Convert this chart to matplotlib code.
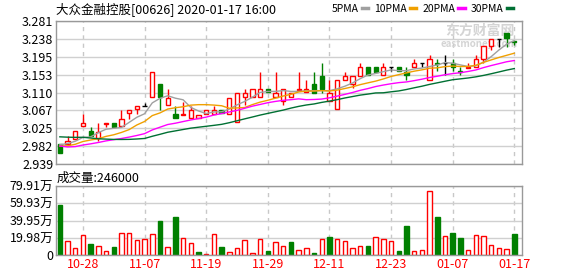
import numpy as np
import pandas as pd
import matplotlib
matplotlib.use('Agg')
import matplotlib.pyplot as plt
from matplotlib.lines import Line2D

plt.rcParams['font.family'] = ['Noto Sans CJK SC', 'DejaVu Sans']

# ---- data (HK trading days, xmas / new year closed) ----
dates = pd.bdate_range('2019-10-23', '2020-01-17')
dates = dates.drop(pd.to_datetime(['2019-12-25', '2019-12-26', '2020-01-01']))

opens = [2.986, 2.988, 2.998, 3.029, 3.018, 3.000, 3.034, 3.036, 3.029, 3.060,
         3.071, 3.078, 3.100, 3.130, 3.079, 3.059, 3.057, 3.049, 3.048, 3.059,
         3.059, 3.067, 3.059, 3.039, 3.100, 3.100, 3.100, 3.118, 3.100, 3.090,
         3.100, 3.115, 3.111, 3.130, 3.149, 3.089, 3.070, 3.140, 3.130, 3.149,
         3.170, 3.170, 3.151, 3.170, 3.170, 3.159, 3.172, 3.180, 3.141, 3.181,
         3.180, 3.180, 3.162, 3.168, 3.170, 3.189, 3.221, 3.239, 3.252, 3.232]
highs = [2.986, 3.006, 3.017, 3.059, 3.027, 3.037, 3.036, 3.036, 3.068, 3.067,
         3.077, 3.086, 3.158, 3.130, 3.118, 3.077, 3.087, 3.077, 3.057, 3.067,
         3.078, 3.067, 3.098, 3.108, 3.118, 3.118, 3.158, 3.118, 3.158, 3.118,
         3.108, 3.159, 3.140, 3.159, 3.180, 3.140, 3.140, 3.159, 3.149, 3.181,
         3.170, 3.170, 3.181, 3.170, 3.170, 3.170, 3.189, 3.180, 3.200, 3.189,
         3.199, 3.189, 3.170, 3.180, 3.199, 3.221, 3.239, 3.239, 3.252, 3.232]
lows = [2.966, 2.988, 2.998, 3.029, 3.006, 2.993, 3.028, 3.028, 3.029, 3.047,
        3.059, 3.078, 3.100, 3.069, 3.079, 3.048, 3.057, 3.049, 3.048, 3.059,
        3.059, 3.062, 3.059, 3.039, 3.079, 3.100, 3.100, 3.111, 3.100, 3.080,
        3.100, 3.115, 3.111, 3.110, 3.110, 3.089, 3.070, 3.140, 3.121, 3.149,
        3.151, 3.159, 3.151, 3.161, 3.161, 3.140, 3.172, 3.170, 3.141, 3.161,
        3.151, 3.161, 3.151, 3.168, 3.170, 3.180, 3.212, 3.220, 3.220, 3.223]
closes = [2.966, 2.995, 3.017, 3.036, 3.006, 3.016, 3.036, 3.028, 3.046, 3.067,
          3.077, 3.078, 3.158, 3.100, 3.098, 3.048, 3.059, 3.067, 3.057, 3.067,
          3.067, 3.062, 3.098, 3.108, 3.108, 3.118, 3.118, 3.111, 3.108, 3.118,
          3.108, 3.118, 3.118, 3.110, 3.118, 3.108, 3.140, 3.149, 3.149, 3.170,
          3.151, 3.159, 3.170, 3.170, 3.161, 3.151, 3.180, 3.180, 3.189, 3.179,
          3.180, 3.172, 3.160, 3.170, 3.189, 3.221, 3.239, 3.239, 3.240, 3.230]
# closes before the window, estimated from where the MA lines start
prior_close = [3.02, 3.03, 3.03, 3.06, 3.07, 3.06, 3.05, 3.05, 3.06, 3.05,
               3.04, 3.00, 2.96, 2.95, 2.95, 2.96, 2.97, 2.99, 3.00, 3.00,
               2.99, 2.98, 2.97, 2.97, 2.985, 2.98, 2.99, 2.99, 2.999]

volumes = [579000, 158000, 77000, 228000, 127000, 100000, 42000, 93000, 251000, 251000,
           170000, 181000, 239000, 394000, 89000, 440000, 193000, 135000, 35000, 12000,
           239000, 93000, 31000, 77000, 170000, 23000, 181000, 46000, 150000, 100000,
           150000, 54000, 77000, 23000, 181000, 208000, 181000, 158000, 77000, 100000,
           104000, 205000, 181000, 158000, 46000, 336000, 42000, 54000, 737000, 440000,
           216000, 255000, 197000, 54000, 228000, 216000, 112000, 77000, 66000, 246000]
vol_dir = list("grrrgrrgrr" "rrrgrgrrgr" "rgrrrrrgrr" "grrgrgrrrr" "grrrggrrrg" "rggrrrrrrg")

price_ticks = ['2.939', '2.982', '3.025', '3.067', '3.110', '3.153', '3.195', '3.238', '3.281']
vol_ticks = ['0', '19.98万', '39.95万', '59.93万', '79.91万']
vol_top = 799100

ma_periods = [5, 10, 20, 30]
ma_names = ['5PMA', '10PMA', '20PMA', '30PMA']
ma_colors = ['#a0a0a0', '#f0a000', '#ff00ff', '#007033']

# ---- figure ----
RED = '#ff0000'
GREEN = '#008000'
n = len(closes)
x = np.arange(n)

fig = plt.figure(figsize=(5.78, 2.76), dpi=100)
ax = fig.add_axes([56/578, 1-164/276, 466/578, 143/276])
ax2 = fig.add_axes([56/578, 1-255/276, 466/578, 69/276])

# candles
w = 0.55
for i in x:
    o, h, l, c = opens[i], highs[i], lows[i], closes[i]
    if c > o:
        col, face = RED, 'white'
    elif c < o:
        col, face = GREEN, GREEN
    else:
        col, face = 'black', 'black'
    ax.vlines(i, l, h, color=col, lw=1, zorder=2)
    if c == o:
        ax.hlines(o, i - w/2, i + w/2, color=col, lw=1, zorder=3)
    else:
        ax.bar(i, abs(c - o), bottom=min(o, c), width=w, facecolor=face,
               edgecolor=col, lw=1, zorder=3)

# moving averages
allc = pd.Series(prior_close + closes)
for p, col in zip(ma_periods, ma_colors):
    ma = allc.rolling(p).mean().values[-n:]
    ax.plot(x, ma, color=col, lw=1, zorder=4)

# volume
for i in x:
    if vol_dir[i] == 'r':
        ax2.bar(i, volumes[i], width=0.58, facecolor='white', edgecolor=RED, lw=1)
    else:
        ax2.bar(i, volumes[i], width=0.58, facecolor=GREEN, edgecolor=GREEN, lw=1)

tick_idx = list(range(3, n, 8))
for a in (ax, ax2):
    a.set_xlim(-0.5, 60.0)
    a.set_xticks(tick_idx)
    for s in a.spines.values():
        s.set_color('#999999')
        s.set_linewidth(1)
    a.tick_params(length=0, labelsize=9, pad=2)
    a.grid(axis='y', color='#d0d0d0', lw=1, ls='-')
    a.grid(axis='x', color='#c8c8c8', lw=1, ls=(0, (3, 3)))
    a.set_axisbelow(True)

ax.set_ylim(2.939, 3.281)
ax.set_yticks(np.linspace(2.939, 3.281, 9))
ax.set_yticklabels(price_ticks)
ax.set_xticklabels([])

ax2.set_ylim(0, vol_top)
ax2.set_yticks(np.linspace(0, vol_top, 5))
ax2.set_yticklabels(vol_ticks)
ax2.set_xticklabels([dates[i].strftime('%m-%d') for i in tick_idx], color=RED)

# texts
fig.text(56/578, 1-9/276, '大众金融控股[00626] 2020-01-17 16:00', fontsize=9, va='center')
fig.text(57/578, 1-178/276, '成交量:246000', fontsize=9, va='center')

handles = [Line2D([], [], color=c, lw=2.5) for c in ma_colors]
fig.legend(handles, ma_names, ncol=4, markerfirst=False, frameon=False,
           loc='center right', bbox_to_anchor=(513/578, 1-9/276), fontsize=7.5,
           handlelength=0.6, handletextpad=0.3, columnspacing=0.6,
           borderpad=0, borderaxespad=0)

# watermark
ax.text(0.985, 0.93, '东方财富网', transform=ax.transAxes, fontsize=10,
        color='#d4d4d4', ha='right', va='center', fontweight='bold', zorder=1)
ax.text(0.99, 0.84, 'eastmoney.com', transform=ax.transAxes, fontsize=7,
        color='#d4d4d4', ha='right', va='center', fontweight='bold', zorder=1)

fig.savefig('out.png', dpi=100)
